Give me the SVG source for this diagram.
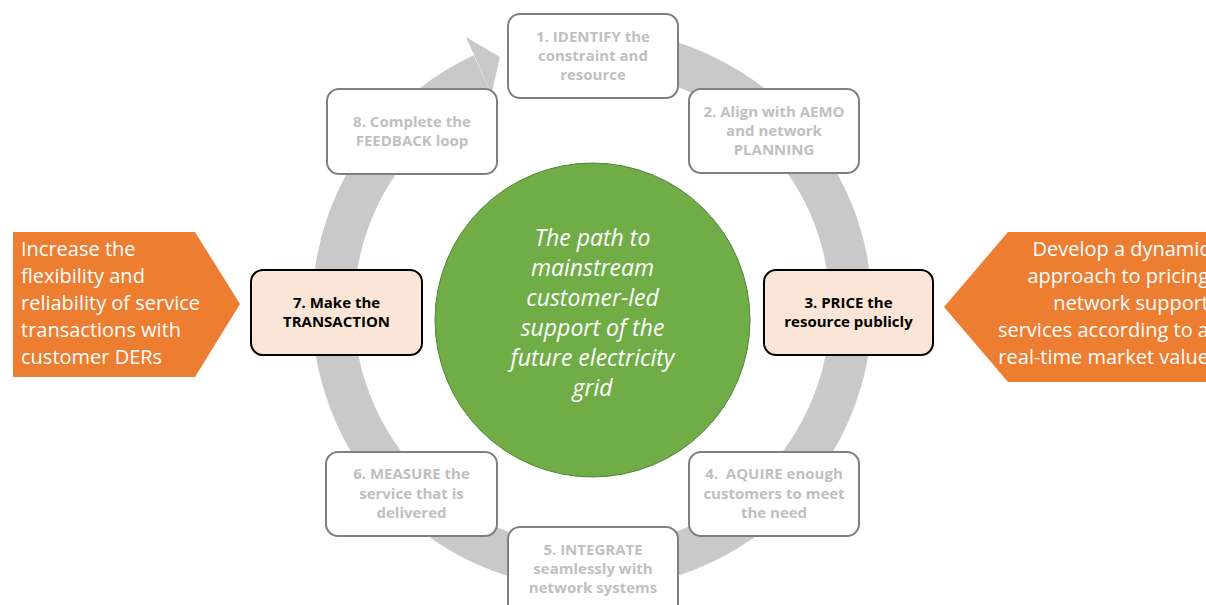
<svg xmlns="http://www.w3.org/2000/svg" width="1206" height="605" viewBox="0 0 1206 605">
<style>
.box{fill:#ffffff;stroke:#7f7f7f;stroke-width:2}
.hbox{fill:#fbe5d6;stroke:#000000;stroke-width:2}
.bt{font-family:"Open Sans","Liberation Sans",sans-serif;font-weight:700;font-size:15px;fill:#bfbfbf;text-anchor:middle}
.ht{font-family:"Open Sans","Liberation Sans",sans-serif;font-weight:700;font-size:15px;fill:#000000;text-anchor:middle}
.ct{font-family:"Open Sans","Liberation Sans",sans-serif;font-style:italic;font-size:23px;fill:#ffffff;text-anchor:middle}
.ot{font-family:"Open Sans","Liberation Sans",sans-serif;font-size:20px;fill:#ffffff}
.orange{fill:#ed7d31}
.ring{fill:none;stroke:#c9c9c9;stroke-width:42}
</style>
<rect width="1206" height="605" fill="#ffffff"/>
<g id="connectors">
<path class="ring" d="M592,50 A259,259 0 1 1 482.5,74.3"/>
<polygon points="474,55 466,37 500,57 491,96 491.4,93.3" fill="#c9c9c9"/>
</g>
<g id="center">
<ellipse cx="592.5" cy="320" rx="157.5" ry="157" fill="#70ad47" stroke="#548235" stroke-width="1"/>
<text class="ct" x="592.5" y="246">The path to</text>
<text class="ct" x="592.5" y="276">mainstream</text>
<text class="ct" x="592.5" y="306">customer-led</text>
<text class="ct" x="592.5" y="336">support of the</text>
<text class="ct" x="592.5" y="366">future electricity</text>
<text class="ct" x="592.5" y="396">grid</text>
</g>
<g id="step1">
<rect class="box" x="508" y="14" width="170" height="84" rx="12"/>
<text class="bt" x="593" y="42">1. IDENTIFY the</text>
<text class="bt" x="593" y="61">constraint and</text>
<text class="bt" x="593" y="80">resource</text>
</g>
<g id="step2">
<rect class="box" x="689" y="89" width="170" height="84" rx="12"/>
<text class="bt" x="774" y="117">2. Align with AEMO</text>
<text class="bt" x="774" y="136">and network</text>
<text class="bt" x="774" y="155">PLANNING</text>
</g>
<g id="step3">
<rect class="hbox" x="764" y="270" width="169" height="85" rx="12"/>
<text class="ht" x="848.5" y="308">3. PRICE the</text>
<text class="ht" x="848.5" y="327">resource publicly</text>
</g>
<g id="step4">
<rect class="box" x="689" y="452" width="170" height="84" rx="12"/>
<text class="bt" x="774" y="479">4.&#160; AQUIRE enough</text>
<text class="bt" x="774" y="499">customers to meet</text>
<text class="bt" x="774" y="518">the need</text>
</g>
<g id="step5">
<rect class="box" x="508" y="527" width="170" height="90" rx="12"/>
<text class="bt" x="593" y="555">5. INTEGRATE</text>
<text class="bt" x="593" y="574">seamlessly with</text>
<text class="bt" x="593" y="593">network systems</text>
</g>
<g id="step6">
<rect class="box" x="326" y="452" width="171" height="84" rx="12"/>
<text class="bt" x="411.5" y="479">6. MEASURE the</text>
<text class="bt" x="411.5" y="499">service that is</text>
<text class="bt" x="411.5" y="518">delivered</text>
</g>
<g id="step7">
<rect class="hbox" x="251" y="270" width="171" height="85" rx="12"/>
<text class="ht" x="336.5" y="308">7. Make the</text>
<text class="ht" x="336.5" y="327">TRANSACTION</text>
</g>
<g id="step8">
<rect class="box" x="327" y="89" width="170" height="85" rx="12"/>
<text class="bt" x="412" y="127">8. Complete the</text>
<text class="bt" x="412" y="146">FEEDBACK loop</text>
</g>
<g id="left-goal">
<polygon class="orange" points="13,232 195,232 240,304 195,377 13,377"/>
<text class="ot" x="21" y="256">Increase the</text>
<text class="ot" x="21" y="283">flexibility and</text>
<text class="ot" x="21" y="310">reliability of service</text>
<text class="ot" x="21" y="337">transactions with</text>
<text class="ot" x="21" y="364">customer DERs</text>
</g>
<g id="right-goal">
<polygon class="orange" points="1230,232 1008,232 944,307 1008,382 1230,382"/>
<text class="ot" x="1209" y="256" text-anchor="end">Develop a dynamic</text>
<text class="ot" x="1209" y="283" text-anchor="end">approach to pricing</text>
<text class="ot" x="1209" y="310" text-anchor="end">network support</text>
<text class="ot" x="1209" y="337" text-anchor="end">services according to a</text>
<text class="ot" x="1209" y="364" text-anchor="end">real-time market value</text>
</g>
</svg>
